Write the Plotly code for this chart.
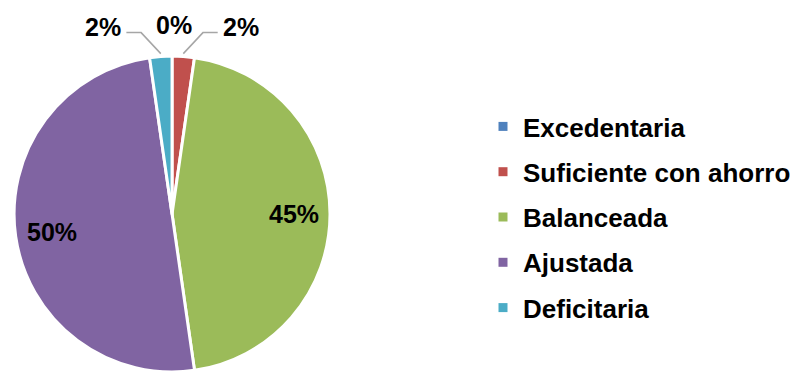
import math
import plotly.graph_objects as go

# Household budget situation, counts per category
categories = ["Excedentaria", "Suficiente con ahorro", "Balanceada", "Ajustada", "Deficitaria"]
counts = [0, 1, 20, 22, 1]
colors = ["#4F81BD", "#C0504D", "#9BBB59", "#8064A2", "#4BACC6"]

W, H = 796, 375
M_T = 53
PLOT_H = H - M_T
DOM_X = [0.018, 0.422]
FONT = "Liberation Sans, Arial, sans-serif"
SMALL_SHARE = 0.05
INSIDE_R = 0.77

total = sum(counts)
shares = [c / total for c in counts]

# Pie geometry in pixels (plotly sizes the pie to the smaller domain side)
cx = W * sum(DOM_X) / 2
r = min(W * (DOM_X[1] - DOM_X[0]), PLOT_H) / 2
cy = M_T + PLOT_H / 2


def to_paper(px, py):
    return px / W, (H - py) / PLOT_H


label_font = dict(family=FONT, size=25, color="black", weight="bold")

fig = go.Figure()
fig.add_trace(go.Pie(
    labels=categories,
    values=counts,
    sort=False,
    direction="clockwise",
    rotation=0,
    domain=dict(x=DOM_X, y=[0, 1]),
    marker=dict(colors=colors, line=dict(color="white", width=3)),
    textinfo="none",
    showlegend=False,
    hoverinfo="label+percent",
))

# Legend entries (one group per category so the spacing can be set)
for name, col in zip(categories, colors):
    fig.add_trace(go.Scatter(
        x=[None], y=[None], mode="markers", name=name, legendgroup=name,
        marker=dict(symbol="square", size=9, color=col),
    ))

# Percentage labels: inside for wide slices, outside with leader lines for thin ones
annotations = []
shapes = []
cum = 0.0
for name, c, s in zip(categories, counts, shares):
    theta = 2 * math.pi * (cum + s / 2)
    cum += s
    label = f"{round(100 * s)}%"
    if s >= SMALL_SHARE:
        tx, ty = to_paper(cx + INSIDE_R * r * math.sin(theta), cy - INSIDE_R * r * math.cos(theta))
        annotations.append(dict(x=tx, y=ty, xref="paper", yref="paper", text=label,
                                showarrow=False, xanchor="center", yanchor="middle",
                                font=label_font))
        continue
    ex = cx + r * math.sin(theta)
    ey = cy - r * math.cos(theta)
    side = 0 if abs(ex - cx) < 4 else (1 if ex > cx else -1)
    if side == 0:
        tx, ty = to_paper(ex + 2, ey - 28)
        annotations.append(dict(x=tx, y=ty, xref="paper", yref="paper", text=label,
                                showarrow=False, xanchor="center", yanchor="middle",
                                font=label_font))
        continue
    bx, by = ex + side * 20, ey - 21
    hx = bx + side * 15
    p0, p1, p2 = to_paper(ex, ey), to_paper(bx, by), to_paper(hx, by)
    shapes.append(dict(type="path", xref="paper", yref="paper",
                       path=f"M {p0[0]},{p0[1]} L {p1[0]},{p1[1]} L {p2[0]},{p2[1]}",
                       line=dict(color="#A6A6A6", width=1.5)))
    tx, ty = to_paper(hx + side * 3, by - 6)
    annotations.append(dict(x=tx, y=ty, xref="paper", yref="paper", text=label,
                            showarrow=False, xanchor="left" if side > 0 else "right",
                            yanchor="middle", font=label_font))

fig.update_layout(
    width=W, height=H,
    margin=dict(l=0, r=0, t=M_T, b=0),
    paper_bgcolor="white", plot_bgcolor="white",
    xaxis=dict(visible=False), yaxis=dict(visible=False),
    annotations=annotations, shapes=shapes,
    legend=dict(
        x=0.618, xanchor="left", y=(H - 217.5) / PLOT_H, yanchor="middle",
        font=dict(family=FONT, size=26, color="black", weight="bold"),
        tracegroupgap=8.5, bgcolor="rgba(0,0,0,0)",
    ),
)

fig.write_html("out.html")
